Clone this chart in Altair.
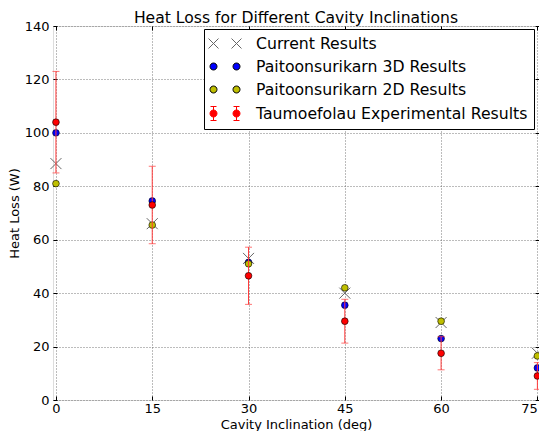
import altair as alt
import pandas as pd

# ---------------- data ----------------
angles = [0, 15, 30, 45, 60, 75]
current = [88.5, 66.0, 53.0, 40.0, 29.0, 17.5]
p3d = [100.0, 74.5, 51.5, 35.5, 23.0, 12.0]
p2d = [81.0, 65.5, 51.0, 42.0, 29.5, 16.5]
exp_vals = [104.0, 73.0, 46.5, 29.5, 17.5, 9.0]
exp_err = [19.0, 14.5, 10.7, 8.2, 6.2, 5.0]

series = [
    "Current Results",
    "Paitoonsurikarn 3D Results",
    "Paitoonsurikarn 2D Results",
    "Taumoefolau Experimental Results",
]
title_text = ["Heat Loss for Different Cavity Inclinations"]
x_ticks = [0, 15, 30, 45, 60, 75]
y_ticks = [0, 20, 40, 60, 80, 100, 120, 140]
x_domain = [-0.46, 75.25]
y_domain = [0, 140]

FONT = "DejaVu Sans"
GRAY_X = "#666666"
BLUE = "#0000ff"
OLIVE = "#bfbf00"
RED = "#ff0000"
ERR = "#ff3a3a"

W, H = 486, 374

df = pd.DataFrame({
    "angle": angles,
    "current": current,
    "p3d": p3d,
    "p2d": p2d,
    "exp": exp_vals,
    "lo": [v - e for v, e in zip(exp_vals, exp_err)],
    "hi": [v + e for v, e in zip(exp_vals, exp_err)],
})

xs = alt.Scale(domain=x_domain, nice=False, zero=False)
ys = alt.Scale(domain=y_domain, nice=False, zero=False)

grid_common = dict(grid=True, gridDash=[1, 2], gridColor="#555555", gridWidth=0.8,
                   ticks=False, tickSize=0, domain=False,
                   labelFont=FONT, labelFontSize=13, labelColor="black",
                   titleFont=FONT, titleFontSize=13, titleColor="black",
                   titleFontWeight="normal")

main_x = alt.Axis(values=x_ticks, title="Cavity Inclination (deg)", orient="bottom",
                  labelPadding=2, titlePadding=3, labelFlush=False,
                  labelAlign=alt.expr("datum.value >= 75 ? 'right' : 'center'"),
                  **grid_common)
main_y = alt.Axis(values=y_ticks, title="Heat Loss (W)", orient="left",
                  labelPadding=4, titlePadding=2.5, **grid_common)


def tick_axis(orient, values):
    return alt.Axis(orient=orient, values=values, offset=-4, labels=False, grid=False,
                    domain=False, ticks=True, tickSize=4, tickColor="black",
                    tickWidth=1, title=None, minExtent=0, maxExtent=0)


X_PATH = "M-1,-1L1,1M-1,1L1,-1"

# current results (X markers) carry the main axes
layer_current = alt.Chart(df).mark_point(
    shape=X_PATH, filled=False, color=GRAY_X, size=121, strokeWidth=1, opacity=1
).encode(
    x=alt.X("angle:Q", scale=xs, axis=main_x),
    y=alt.Y("current:Q", scale=ys, axis=main_y),
)


def circles(field, color):
    return alt.Chart(df).mark_point(
        shape="circle", filled=True, fill=color, stroke="black", strokeWidth=0.6,
        size=45, opacity=1
    ).encode(
        x=alt.X("angle:Q", scale=xs, axis=None),
        y=alt.Y(f"{field}:Q", scale=ys, axis=None),
    )


layer_3d = circles("p3d", BLUE)
layer_2d = circles("p2d", OLIVE)

err_rule = alt.Chart(df).mark_rule(color=ERR, strokeWidth=1).encode(
    x=alt.X("angle:Q", scale=xs, axis=None),
    y=alt.Y("lo:Q", scale=ys, axis=None),
    y2="hi:Q",
)
err_lo = alt.Chart(df).mark_tick(color=ERR, orient="horizontal", size=7, thickness=1).encode(
    x=alt.X("angle:Q", scale=xs, axis=None),
    y=alt.Y("lo:Q", scale=ys, axis=None),
)
err_hi = alt.Chart(df).mark_tick(color=ERR, orient="horizontal", size=7, thickness=1).encode(
    x=alt.X("angle:Q", scale=xs, axis=None),
    y=alt.Y("hi:Q", scale=ys, axis=None),
)
layer_exp = circles("exp", RED)

# inward ticks on all four sides
ticks_bl = alt.Chart(df).mark_point(opacity=0).encode(
    x=alt.X("angle:Q", scale=xs, axis=tick_axis("bottom", x_ticks)),
    y=alt.Y("exp:Q", scale=ys, axis=tick_axis("left", y_ticks)),
)
ticks_tr = alt.Chart(df).mark_point(opacity=0).encode(
    x=alt.X("angle:Q", scale=xs, axis=tick_axis("top", x_ticks)),
    y=alt.Y("exp:Q", scale=ys, axis=tick_axis("right", y_ticks)),
)

# legend layer (invisible marks, visible legend)
U = 8.0  # px per path unit (symbolSize 256 -> r = 8)


def circ(cx, r):
    return f"M{cx - r},0A{r},{r} 0 1,0 {cx + r},0A{r},{r} 0 1,0 {cx - r},0Z"


def xmark(cx, h):
    return f"M{cx - h},{-h}L{cx + h},{h}M{cx - h},{h}L{cx + h},{-h}"


def ebar(cx, e, c):
    return f"M{cx},{-e}L{cx},{e}M{cx - c},{-e}L{cx + c},{-e}M{cx - c},{e}L{cx + c},{e}"


c1, c2 = -0.625, 2.25
rr = 3.5 / U
path_x = xmark(c1, 5 / U) + xmark(c2, 5 / U)
path_c = circ(c1, rr) + circ(c2, rr)
path_e = ebar(c1, 7 / U, 3 / U) + ebar(c2, 7 / U, 3 / U) + path_c

leg_df = pd.DataFrame({
    "series": series,
    "angle": [angles[0]] * 4,
    "val": [current[0], p3d[0], p2d[0], exp_vals[0]],
})
legend = alt.Legend(
    title=None, orient="none", legendX=151, legendY=3, symbolSize=256,
    symbolStrokeWidth=1, labelFont=FONT, labelFontSize=15.7, labelColor="black",
    labelOffset=29, padding=6, rowPadding=6, strokeColor="black", fillColor="white",
    cornerRadius=0, symbolOpacity=1, labelLimit=400,
)
layer_legend = alt.Chart(leg_df).mark_point(opacity=0, filled=True).encode(
    x=alt.X("angle:Q", scale=xs, axis=None),
    y=alt.Y("val:Q", scale=ys, axis=None),
    shape=alt.Shape("series:N", sort=series, legend=legend,
                    scale=alt.Scale(domain=series, range=[path_x, path_c, path_c, path_e])),
    fill=alt.Fill("series:N", sort=series, legend=legend,
                  scale=alt.Scale(domain=series, range=["transparent", BLUE, OLIVE, RED])),
    stroke=alt.Stroke("series:N", sort=series, legend=legend,
                      scale=alt.Scale(domain=series, range=[GRAY_X, "black", "black", RED])),
)

# chart title drawn as text just above the plot frame
layer_title = alt.Chart(pd.DataFrame({"t": title_text})).mark_text(
    font=FONT, fontSize=15.6, color="black", align="center", baseline="alphabetic"
).encode(x=alt.value(W / 2), y=alt.value(-3.5), text="t:N")

chart = alt.layer(
    layer_current, layer_3d, layer_2d, err_rule, err_lo, err_hi, layer_exp,
    ticks_bl, ticks_tr, layer_legend, layer_title,
).resolve_axis(x="independent", y="independent").properties(
    width=W, height=H,
    autosize=alt.AutoSizeParams(type="none"),
    padding={"left": 45, "top": 18, "right": 0, "bottom": 31},
).configure_view(stroke="black", strokeWidth=1.2).configure(background="white")

chart.save("out.html", embed_options={"renderer": "svg", "actions": False})
